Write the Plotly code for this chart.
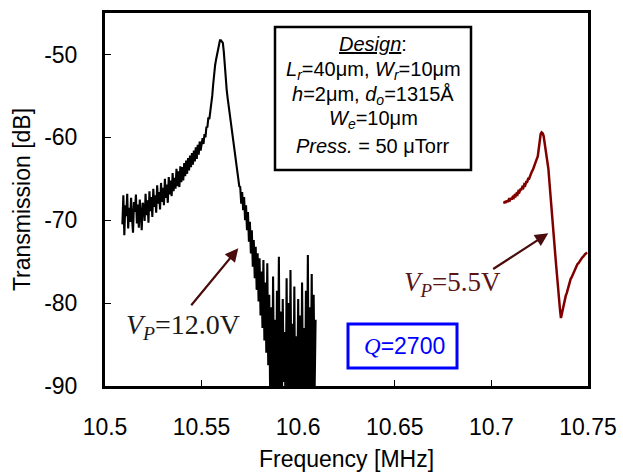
import numpy as np
import plotly.graph_objects as go

# ---------------- data ----------------
FREQ_STEP = 0.0005          # MHz, sweep step
BLACK_F0 = 10.509           # start of the VP=12.0V sweep
RED_F0 = 10.7065            # start of the VP=5.5V sweep

black_db = [
    -70.5, -67.0, -71.8, -68.2, -69.5, -66.8, -71.0, -68.5, -70.2, -67.3, -69.8,
    -71.5, -67.8, -69.0, -66.9, -70.4, -68.1, -70.9, -67.5, -69.2, -71.2, -67.9,
    -68.3, -70.1, -66.8, -69.4, -67.6, -70.3, -66.5, -68.9, -67.2, -69.6,
    -66.2, -68.4, -67.0, -69.1, -65.8, -68.0, -66.6, -68.7, -65.5, -67.8,
    -66.1, -68.2, -65.0, -67.3, -65.7, -67.9, -64.8, -66.9, -65.2, -67.1,
    -64.3, -66.5, -64.9, -66.2, -63.8, -65.9, -64.1, -66.0, -63.5, -65.4,
    -63.6, -65.2, -63.1, -64.7, -62.8, -64.4, -62.5, -64.0, -62.2, -63.6,
    -61.9, -63.3, -61.6, -62.9, -61.2, -62.6, -60.9, -62.1, -60.5, -61.6,
    -61.0, -60.1, -60.8, -59.6, -60.0, -58.7, -58.8, -57.6, -57.8, -56.8,
    -56.4, -55.0, -53.6, -52.2, -51.3, -50.6, -49.9, -49.2, -48.5, -48.3,
    -48.3, -48.4, -48.6, -49.7, -51.5, -53.0, -54.3, -55.3, -56.2, -56.8,
    -57.8, -58.7, -59.8, -60.6, -61.3, -62.3, -62.9, -63.9, -64.6, -65.9,
    -66.0, -68.0, -66.6, -68.8, -67.2, -70.0, -68.2, -71.2, -69.0, -72.6,
    -70.2, -74.0, -71.2, -75.6, -72.4, -77.0, -73.2, -78.4, -74.0, -79.8,
    -74.6, -81.5, -76.2, -83.0, -74.8, -84.5, -77.5, -86.0, -75.2, -87.5,
    -79.0, -91.5, -80.5, -94.0, -76.8, -92.0, -82.0, -95.0, -78.5, -90.5,
    -74.4, -93.5, -81.0, -96.0, -79.5, -89.5, -83.5, -94.5, -77.0, -92.5,
    -80.0, -95.5, -76.0, -91.0, -82.5, -94.0, -78.0, -96.0, -84.0, -90.0,
    -79.5, -93.0, -81.5, -95.0, -77.5, -91.5, -83.0, -94.5, -78.5, -92.0,
    -74.2, -95.0, -80.5, -91.0, -76.5, -93.5, -79.0, -90.5, -82.0,
]

red_db = [
    -68.0, -67.7, -67.9, -67.6, -67.8, -67.5, -67.6, -67.3, -67.5, -67.2,
    -67.3, -67.0, -67.1, -66.8, -66.9, -66.5, -66.6, -66.3, -66.3, -66.0,
    -66.1, -65.7, -65.8, -65.4, -65.4, -65.0, -65.0, -64.6, -64.5, -64.1,
    -63.9, -63.5, -63.2, -62.9, -62.6, -62.3, -61.4, -60.4, -59.6, -59.4,
    -59.5, -59.8, -60.5, -61.3, -62.2, -63.0, -63.8, -65.3, -66.6, -68.2,
    -69.6, -71.4, -72.6, -74.0, -75.4, -77.0, -78.2, -79.6, -80.8, -81.8,
    -81.2, -80.6, -80.0, -79.6, -79.1, -78.8, -78.3, -77.8, -77.5, -77.1,
    -76.9, -76.6, -76.4, -76.0, -75.8, -75.6, -75.3, -75.2, -75.0, -74.8,
    -74.7, -74.5, -74.4, -74.2, -74.1, -74.0, -73.9,
]

x_ticks = [10.5, 10.55, 10.6, 10.65, 10.7, 10.75]
x_labels = ["10.5", "10.55", "10.6", "10.65", "10.7", "10.75"]
y_ticks = [-90, -80, -70, -60, -50]
y_labels = ["-90", "-80", "-70", "-60", "-50"]
X_RANGE = [10.5, 10.75]
Y_RANGE = [-90, -45]

black_f = np.round(BLACK_F0 + FREQ_STEP * np.arange(len(black_db)), 5)
red_f = np.round(RED_F0 + FREQ_STEP * np.arange(len(red_db)), 5)

# ---------------- layout helpers ----------------
W, H = 623, 472
ML, MR, MT, MB = 105, 35, 13, 86
PW, PH = W - ML - MR, H - MT - MB

def px(xp):
    return (xp - ML) / PW

def py(yp):
    return (H - MB - yp) / PH

def dx(xp):
    return X_RANGE[0] + (xp - ML) / PW * (X_RANGE[1] - X_RANGE[0])

def dy(yp):
    return Y_RANGE[1] - (yp - MT) / PH * (Y_RANGE[1] - Y_RANGE[0])

SANS = "Liberation Sans, Arial, sans-serif"
SERIF = "Liberation Serif, Times New Roman, serif"
ARROW = "#4a0c0c"

fig = go.Figure()
fig.add_trace(go.Scatter(x=black_f, y=black_db, mode="lines",
                         line=dict(color="black", width=2.1), showlegend=False))
fig.add_trace(go.Scatter(x=red_f, y=red_db, mode="lines",
                         line=dict(color="#800000", width=2.5), showlegend=False))

shapes = [
    dict(type="rect", xref="paper", yref="paper",
         x0=px(275), x1=px(471), y0=py(170), y1=py(27),
         line=dict(color="black", width=2.5), fillcolor="white", layer="above"),
    dict(type="rect", xref="paper", yref="paper",
         x0=px(348), x1=px(457), y0=py(368), y1=py(324),
         line=dict(color="#0000ff", width=3), fillcolor="rgba(0,0,0,0)", layer="above"),
]

ann = []
design_lines = [
    "<i><u>Design</u></i>:",
    "<i>L<sub>r</sub></i>=40μm, <i>W<sub>r</sub></i>=10μm",
    "<i>h</i>=2μm, <i>d<sub>o</sub></i>=1315Å",
    "<i>W<sub>e</sub></i>=10μm",
    "<i>Press.</i> = 50 μTorr",
]
design_y = [44, 70, 95, 120, 146]
for t, yy in zip(design_lines, design_y):
    ann.append(dict(text=t, xref="paper", yref="paper", x=px(373), y=py(yy),
                    xanchor="center", yanchor="middle", showarrow=False,
                    font=dict(family=SANS, size=20, color="black")))

ann.append(dict(text="<i>V<sub>P</sub></i>=12.0V", xref="paper", yref="paper",
                x=px(124), y=py(326), xanchor="left", yanchor="middle", showarrow=False,
                font=dict(family=SERIF, size=28, color="#1a1a1a")))
ann.append(dict(text="<i>V<sub>P</sub></i>=5.5V", xref="paper", yref="paper",
                x=px(402), y=py(284), xanchor="left", yanchor="middle", showarrow=False,
                font=dict(family=SERIF, size=27, color="#5a1414")))
ann.append(dict(text="<span style='font-family:Liberation Serif'><i>Q</i></span>=2700",
                xref="paper", yref="paper", x=px(404), y=py(346),
                xanchor="center", yanchor="middle", showarrow=False,
                font=dict(family=SANS, size=23, color="#0000ff")))

# arrows: head position in data coords, tail offset in pixels
ann.append(dict(text="", x=dx(238.3), y=dy(248.3), xref="x", yref="y",
                ax=190 - 238.3, ay=306.7 - 248.3, showarrow=True,
                arrowhead=2, arrowsize=1.2, arrowwidth=2.2, arrowcolor=ARROW,
                standoff=0, startstandoff=0))
ann.append(dict(text="", x=dx(548.3), y=dy(233.3), xref="x", yref="y",
                ax=491.7 - 548.3, ay=270 - 233.3, showarrow=True,
                arrowhead=2, arrowsize=1.2, arrowwidth=2.2, arrowcolor=ARROW,
                standoff=0, startstandoff=0))

fig.update_layout(
    width=W, height=H,
    margin=dict(l=ML, r=MR, t=MT, b=MB, pad=0, autoexpand=False),
    paper_bgcolor="white", plot_bgcolor="white",
    shapes=shapes, annotations=ann,
    xaxis=dict(range=X_RANGE, tickvals=x_ticks, ticktext=x_labels,
               showline=True, linecolor="black", linewidth=3, mirror=True,
               ticks="inside", ticklen=6, tickwidth=1, tickcolor="black",
               showgrid=False, zeroline=False, ticklabelstandoff=18,
               automargin=False,
               tickfont=dict(family=SANS, size=23, color="black"),
               title=dict(text="Frequency [MHz]", standoff=14,
                          font=dict(family=SANS, size=23, color="black"))),
    yaxis=dict(range=Y_RANGE, tickvals=y_ticks, ticktext=y_labels,
               showline=True, linecolor="black", linewidth=3, mirror=True,
               ticks="inside", ticklen=6, tickwidth=1, tickcolor="black",
               showgrid=False, zeroline=False, ticklabelstandoff=20,
               automargin=False,
               tickfont=dict(family=SANS, size=23, color="black"),
               title=dict(text="Transmission [dB]", standoff=8,
                          font=dict(family=SANS, size=23, color="black"))),
)

fig.write_html("out.html")
